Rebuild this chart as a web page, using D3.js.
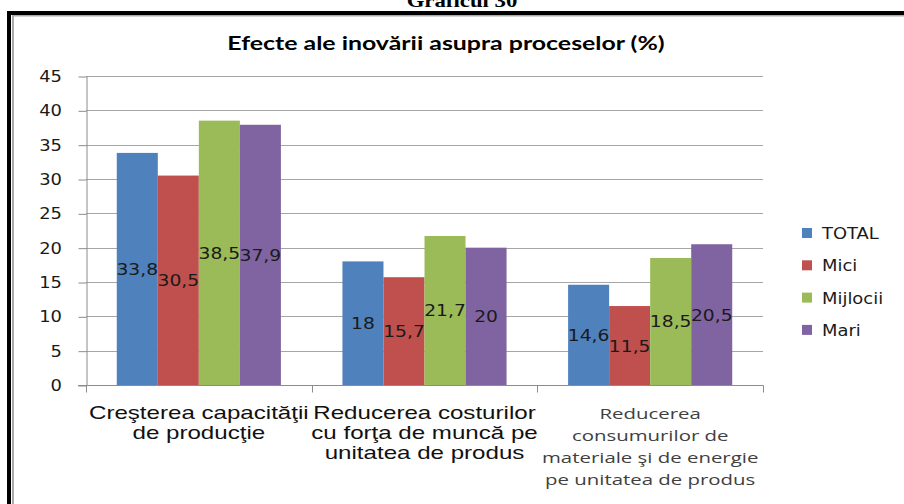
<!DOCTYPE html>
<html>
<head>
<meta charset="utf-8">
<script src="https://cdn.jsdelivr.net/npm/d3@7"></script>
<style>
  body { margin: 0; background: #fff; }
  svg { display: block; }
</style>
</head>
<body>
<div id="chart"></div>
<script>
// data
let categories = [
  ["Creşterea capacităţii", "de producţie"],
  ["Reducerea costurilor", "cu forţa de muncă pe", "unitatea de produs"],
  ["Reducerea", "consumurilor de", "materiale şi de energie", "pe unitatea de produs"]
];
let seriesNames = ["TOTAL", "Mici", "Mijlocii", "Mari"];
let total = [33.8, 18, 14.6];
let mici = [30.5, 15.7, 11.5];
let mijlocii = [38.5, 21.7, 18.5];
let mari = [37.9, 20, 20.5];
let yTicks = [0, 5, 10, 15, 20, 25, 30, 35, 40, 45];

let colors = ["#4f81bd", "#c0504d", "#9bbb59", "#8064a2"];
let series = [total, mici, mijlocii, mari];

var width = 904, height = 504;
var plot = {left: 86, right: 763, top: 76, bottom: 385};

var svg = d3.select("#chart").append("svg")
  .attr("width", width)
  .attr("height", height);

// the original picture is stretched sideways, so text gets a horizontal scale
function wideText(parent, x, y, sx) {
  return parent.append("text")
    .attr("transform", "translate(" + x + "," + y + ") scale(" + sx + ",1)");
}

// frame
svg.append("rect").attr("x", 7).attr("y", 11).attr("width", width - 7).attr("height", 4).attr("fill", "#000");
svg.append("rect").attr("x", 7).attr("y", 11).attr("width", 4).attr("height", height - 11).attr("fill", "#000");
svg.append("rect").attr("x", 12).attr("y", 15).attr("width", width - 12).attr("height", 1.5).attr("fill", "#aaa");
svg.append("rect").attr("x", 12).attr("y", 15).attr("width", 2).attr("height", height - 15).attr("fill", "#aaa");

// heading cut by the top
wideText(svg, 462, 7, 1.2)
  .attr("text-anchor", "middle")
  .style("font-family", "Liberation Serif")
  .style("font-weight", "bold")
  .style("font-size", "19px")
  .text("Graficul 30");

wideText(svg, 446, 50, 1.31)
  .attr("text-anchor", "middle")
  .style("font-family", "Lato")
  .style("font-weight", "bold")
  .style("font-size", "19px")
  .text("Efecte ale inovării asupra proceselor (%)");

var y = d3.scaleLinear().domain([0, 45]).range([plot.bottom, plot.top]);
var x0 = d3.scaleBand().domain(d3.range(categories.length)).range([plot.left, plot.right]).padding(0);
// excel gap width 150%
var barW = x0.bandwidth() / 5.5;
function barX(c, s) { return x0(c) + barW * 0.75 + s * barW; }

// gridlines
svg.append("g").selectAll("line").data(yTicks.filter(d => d > 0)).enter().append("line")
  .attr("x1", plot.left).attr("x2", plot.right)
  .attr("y1", d => Math.round(y(d)) + 0.5).attr("y2", d => Math.round(y(d)) + 0.5)
  .attr("stroke", "#a6a6a6").attr("stroke-width", 1);

// bars
series.forEach(function(vals, s) {
  svg.append("g").selectAll("rect").data(vals).enter().append("rect")
    .attr("x", (d, c) => barX(c, s))
    .attr("y", d => y(d))
    .attr("width", barW)
    .attr("height", d => y(0) - y(d))
    .attr("fill", colors[s]);
});

// value labels
series.forEach(function(vals, s) {
  var g = svg.append("g");
  vals.forEach(function(d, c) {
    wideText(g, barX(c, s) + barW / 2, (y(d) + y(0)) / 2 + 6, 1.17)
      .attr("text-anchor", "middle")
      .style("font-family", "DejaVu Sans")
      .style("font-size", "16px")
      .attr("fill", "#1a1a1a")
      .text(String(d).replace(".", ","));
  });
});

// y axis
var yAxis = svg.append("g")
  .attr("transform", "translate(" + (plot.left + 0.5) + ",0)")
  .call(d3.axisLeft(y).tickValues(yTicks).tickSize(8).tickSizeOuter(0).tickFormat(""));
yAxis.select(".domain").attr("stroke", "#8c8c8c");
yAxis.selectAll(".tick line").attr("stroke", "#8c8c8c").attr("transform", "translate(0,0.5)");
var yLab = svg.append("g");
yTicks.forEach(function(t) {
  wideText(yLab, 62, y(t) + 6, 1.12)
    .attr("text-anchor", "end")
    .style("font-family", "DejaVu Sans").style("font-size", "16px").attr("fill", "#1a1a1a")
    .text(t);
});

// x axis
var xAxis = svg.append("g")
  .attr("transform", "translate(0," + (plot.bottom + 0.5) + ")");
xAxis.append("line").attr("x1", plot.left - 8).attr("x2", plot.right + 0.5).attr("stroke", "#8c8c8c");
xAxis.selectAll("line.tk").data(d3.range(categories.length + 1)).enter().append("line")
  .attr("class", "tk")
  .attr("x1", d => Math.round(plot.left + d * x0.bandwidth()) + 0.5)
  .attr("x2", d => Math.round(plot.left + d * x0.bandwidth()) + 0.5)
  .attr("y1", 0).attr("y2", 7)
  .attr("stroke", "#8c8c8c");

categories.forEach(function(lines, c) {
  var last = c == 2;
  var cx = x0(c) + x0.bandwidth() / 2;
  var t = wideText(svg, cx, 419, last ? 1.36 : 1.34)
    .attr("text-anchor", "middle")
    .style("font-family", last ? "Open Sans" : "Liberation Sans")
    .style("font-size", last ? "15px" : "18px")
    .attr("fill", last ? "#404040" : "#111");
  lines.forEach(function(l, i) {
    t.append("tspan").attr("x", 0)
      .attr("dy", i == 0 ? 0 : (last ? 22 : 20))
      .text(l);
  });
});

// legend
var legend = svg.append("g");
seriesNames.forEach(function(n, i) {
  var ly = 233 + i * 32.3;
  legend.append("rect").attr("x", 802).attr("y", ly - 5).attr("width", 10).attr("height", 10).attr("fill", colors[i]);
  wideText(legend, 822, ly + 6, 1.12)
    .style("font-family", "DejaVu Sans").style("font-size", "16px").attr("fill", "#1a1a1a")
    .text(n);
});
</script>
</body>
</html>
